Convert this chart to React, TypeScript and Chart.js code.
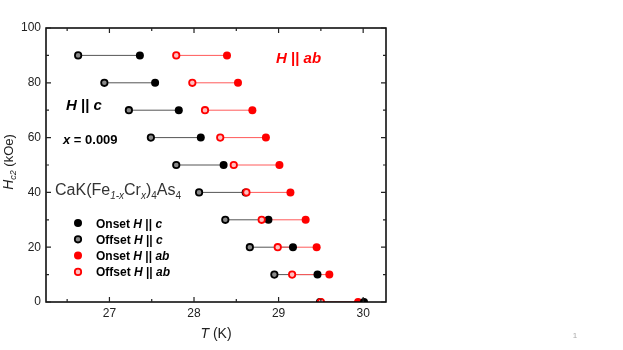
import React, { useEffect, useRef } from "react";
import { Chart, registerables } from "chart.js";

Chart.register(...registerables);

// Field values (kOe)
const fields = [90, 80, 70, 60, 50, 40, 30, 20, 10, 0];
// Temperatures (K)
const onsetC = [27.36, 27.54, 27.82, 28.08, 28.35, 28.61, 28.88, 29.17, 29.46, 30.01];
const offsetC = [26.63, 26.94, 27.23, 27.49, 27.79, 28.06, 28.37, 28.66, 28.95, 29.49];
const onsetAB = [28.39, 28.52, 28.69, 28.85, 29.01, 29.14, 29.32, 29.45, 29.6, 29.94];
const offsetAB = [27.79, 27.98, 28.13, 28.31, 28.47, 28.62, 28.8, 28.99, 29.16, 29.5];

// Axis ticks
const xMajorTicks = [27, 28, 29, 30];
const xMinorTicks = [26.5, 27.5, 28.5, 29.5];
const yMajorTicks = [0, 20, 40, 60, 80, 100];
const yMinorTicks = [10, 30, 50, 70, 90];

const FONT = "'Liberation Sans', Arial, Helvetica, sans-serif";

type Run = { t: string; f: string; dy?: number };

function measureRuns(ctx: CanvasRenderingContext2D, runs: Run[]) {
  let w = 0;
  runs.forEach((r) => {
    ctx.font = r.f;
    w += ctx.measureText(r.t).width;
  });
  return w;
}

function drawRuns(
  ctx: CanvasRenderingContext2D,
  runs: Run[],
  x: number,
  y: number,
  color: string,
  align: "left" | "center" = "left"
) {
  ctx.save();
  ctx.fillStyle = color;
  ctx.textBaseline = "alphabetic";
  ctx.textAlign = "left";
  const total = measureRuns(ctx, runs);
  let cx = align === "center" ? x - total / 2 : x;
  runs.forEach((r) => {
    ctx.font = r.f;
    ctx.fillText(r.t, cx, y + (r.dy || 0));
    cx += ctx.measureText(r.t).width;
  });
  ctx.restore();
}

function pts(xs: number[]) {
  return xs.map((x, i) => ({ x, y: fields[i] }));
}

function segs(a: number[], b: number[]) {
  const out: { x: number; y: number | null }[] = [];
  fields.forEach((f, i) => {
    out.push({ x: a[i], y: f });
    out.push({ x: b[i], y: f });
    out.push({ x: b[i], y: null });
  });
  return out;
}

const decorPlugin = {
  id: "decor",
  afterDraw(chart: any) {
    const ctx: CanvasRenderingContext2D = chart.ctx;
    const { left, right, top, bottom } = chart.chartArea;
    const xs = chart.scales.x;
    const ys = chart.scales.y;

    ctx.save();
    // Frame
    ctx.strokeStyle = "#000";
    ctx.lineWidth = 1.5;
    ctx.strokeRect(left, top, right - left, bottom - top);

    // Tick marks (inward on all sides)
    ctx.lineWidth = 1.2;
    ctx.strokeStyle = "#222";
    const major = 5;
    const minor = 3;
    const drawX = (v: number, len: number) => {
      const px = xs.getPixelForValue(v);
      ctx.beginPath();
      ctx.moveTo(px, bottom);
      ctx.lineTo(px, bottom - len);
      ctx.moveTo(px, top);
      ctx.lineTo(px, top + len);
      ctx.stroke();
    };
    const drawY = (v: number, len: number) => {
      const py = ys.getPixelForValue(v);
      ctx.beginPath();
      ctx.moveTo(left, py);
      ctx.lineTo(left + len, py);
      ctx.moveTo(right, py);
      ctx.lineTo(right - len, py);
      ctx.stroke();
    };
    xMajorTicks.forEach((v) => drawX(v, major));
    xMinorTicks.forEach((v) => drawX(v, minor));
    yMajorTicks.forEach((v) => drawY(v, major));
    yMinorTicks.forEach((v) => drawY(v, minor));
    ctx.restore();

    // Annotations
    const bi15 = `italic bold 15px ${FONT}`;
    const b15 = `bold 15px ${FONT}`;
    drawRuns(ctx, [{ t: "H", f: bi15 }, { t: " || ", f: b15 }, { t: "ab", f: bi15 }], left + 230, top + 35, "#ff0000");
    drawRuns(ctx, [{ t: "H", f: bi15 }, { t: " || ", f: b15 }, { t: "c", f: bi15 }], left + 20, top + 82, "#000");
    drawRuns(
      ctx,
      [
        { t: "x", f: `italic bold 13px ${FONT}` },
        { t: " = 0.009", f: `bold 13px ${FONT}` },
      ],
      left + 17,
      top + 116,
      "#000"
    );
    const r16 = `16px ${FONT}`;
    const s10 = `italic 10px ${FONT}`;
    const n10 = `10px ${FONT}`;
    drawRuns(
      ctx,
      [
        { t: "CaK(Fe", f: r16 },
        { t: "1-x", f: s10, dy: 4 },
        { t: "Cr", f: r16 },
        { t: "x", f: s10, dy: 4 },
        { t: ")", f: r16 },
        { t: "4", f: n10, dy: 4 },
        { t: "As", f: r16 },
        { t: "4", f: n10, dy: 4 },
      ],
      left + 9,
      top + 167,
      "#333"
    );

    // Legend
    const legendRows = [
      { label: "Onset ", sub: "c", fill: "#000", stroke: "#000", hollow: false },
      { label: "Offset ", sub: "c", fill: "#8a8a8a", stroke: "#000", hollow: true },
      { label: "Onset ", sub: "ab", fill: "#ff0000", stroke: "#ff0000", hollow: false },
      { label: "Offset ", sub: "ab", fill: "#ffc0c0", stroke: "#ff0000", hollow: true },
    ];
    const b12 = `bold 12px ${FONT}`;
    const bi12 = `italic bold 12px ${FONT}`;
    legendRows.forEach((r, i) => {
      const cy = top + 195 + i * 16.3;
      ctx.save();
      ctx.beginPath();
      if (r.hollow) {
        ctx.arc(left + 32, cy, 3.2, 0, Math.PI * 2);
        ctx.fillStyle = r.fill;
        ctx.fill();
        ctx.lineWidth = 1.8;
        ctx.strokeStyle = r.stroke;
        ctx.stroke();
      } else {
        ctx.arc(left + 32, cy, 4, 0, Math.PI * 2);
        ctx.fillStyle = r.fill;
        ctx.fill();
      }
      ctx.restore();
      drawRuns(
        ctx,
        [
          { t: r.label, f: b12 },
          { t: "H", f: bi12 },
          { t: " || ", f: b12 },
          { t: r.sub, f: bi12 },
        ],
        left + 50,
        cy + 4.5,
        "#000"
      );
    });

    // Axis titles
    drawRuns(
      ctx,
      [
        { t: "T", f: `italic 14px ${FONT}` },
        { t: " (K)", f: `14px ${FONT}` },
      ],
      (left + right) / 2,
      338,
      "#222",
      "center"
    );
    ctx.save();
    ctx.translate(12.5, 162);
    ctx.rotate(-Math.PI / 2);
    drawRuns(
      ctx,
      [
        { t: "H", f: `italic 14px ${FONT}` },
        { t: "c2", f: `italic 9px ${FONT}`, dy: 3 },
        { t: " (kOe)", f: `13px ${FONT}` },
      ],
      0,
      0,
      "#222",
      "center"
    );
    ctx.restore();

    // Page number
    ctx.save();
    ctx.fillStyle = "#aaa";
    ctx.font = `8px ${FONT}`;
    ctx.textAlign = "center";
    ctx.fillText("1", 575, 338);
    ctx.restore();
  },
};

export default function App() {
  const ref = useRef<HTMLCanvasElement>(null);

  useEffect(() => {
    if (!ref.current) return;
    const chart = new Chart(ref.current, {
      type: "scatter",
      data: {
        datasets: [
          {
            label: "lineC",
            data: segs(offsetC, onsetC) as any,
            showLine: true,
            borderColor: "#555",
            borderWidth: 1,
            pointRadius: 0,
            spanGaps: false,
            order: 10,
          },
          {
            label: "lineAB",
            data: segs(offsetAB, onsetAB) as any,
            showLine: true,
            borderColor: "#ff5a5a",
            borderWidth: 1,
            pointRadius: 0,
            spanGaps: false,
            order: 9,
          },
          {
            label: "Onset H || ab",
            data: pts(onsetAB),
            pointRadius: 4,
            pointBackgroundColor: "#ff0000",
            pointBorderColor: "#ff0000",
            pointBorderWidth: 0,
            order: 5,
          },
          {
            label: "Onset H || c",
            data: pts(onsetC),
            pointRadius: 4,
            pointBackgroundColor: "#000",
            pointBorderColor: "#000",
            pointBorderWidth: 0,
            order: 4,
          },
          {
            label: "Offset H || c",
            data: pts(offsetC),
            pointRadius: 3.2,
            pointBackgroundColor: "#8a8a8a",
            pointBorderColor: "#000",
            pointBorderWidth: 1.8,
            order: 3,
          },
          {
            label: "Offset H || ab",
            data: pts(offsetAB),
            pointRadius: 3.2,
            pointBackgroundColor: "#ffc0c0",
            pointBorderColor: "#ff0000",
            pointBorderWidth: 1.8,
            order: 2,
          },
        ],
      },
      options: {
        animation: false,
        responsive: false,
        layout: { padding: { top: 28, right: 237, left: 0, bottom: 0 } },
        plugins: {
          legend: { display: false },
          tooltip: { enabled: false },
        },
        scales: {
          x: {
            type: "linear",
            min: 26.25,
            max: 30.27,
            grid: { display: false, drawTicks: false },
            border: { display: false },
            ticks: {
              stepSize: 1,
              includeBounds: false,
              padding: 4,
              color: "#222",
              font: { family: FONT, size: 12 },
              maxRotation: 0,
            },
            afterFit: (s: any) => {
              s.height = 48;
            },
          },
          y: {
            type: "linear",
            min: 0,
            max: 100,
            grid: { display: false, drawTicks: false },
            border: { display: false },
            ticks: {
              stepSize: 20,
              padding: 5,
              color: "#222",
              font: { family: FONT, size: 12 },
            },
            afterFit: (s: any) => {
              s.width = 46;
            },
          },
        },
      },
      plugins: [decorPlugin],
    });
    return () => chart.destroy();
  }, []);

  return (
    <div style={{ position: "fixed", left: 0, top: 0, width: 623, height: 350, background: "#fff" }}>
      <canvas ref={ref} width={623} height={350} style={{ display: "block" }} />
    </div>
  );
}
